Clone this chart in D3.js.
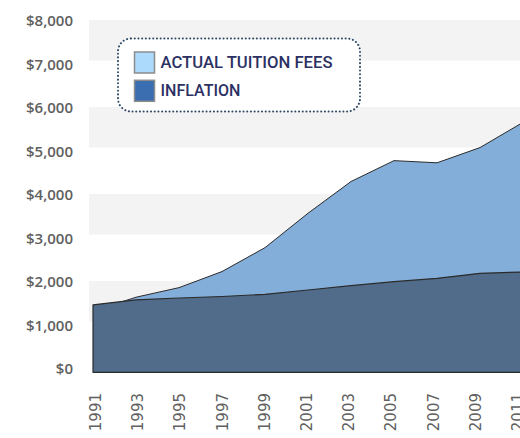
<!DOCTYPE html>
<html>
<head>
<meta charset="utf-8">
<script src="https://cdn.jsdelivr.net/npm/d3@7"></script>
<style>
  html, body { margin: 0; padding: 0; background: #fff; }
  svg { display: block; }
</style>
</head>
<body>
<div id="chart"></div>
<script>
// ---- data ----
const years = [1991, 1993, 1995, 1997, 1999, 2001, 2003, 2005, 2007, 2009, 2011];
const tuition = [1330, 1650, 1870, 2240, 2790, 3580, 4310, 4790, 4740, 5090, 5670];
const inflation = [1475, 1590, 1632, 1667, 1717, 1816, 1915, 2007, 2085, 2200, 2230];
const yTicks = [0, 1000, 2000, 3000, 4000, 5000, 6000, 7000, 8000];
const bandTops = [8000, 6000, 4000, 2000];
const legendLabels = ["ACTUAL TUITION FEES", "INFLATION"];
const legendColors = ["#acdafd", "#3a6eb0"];

const W = 520, H = 438;
const svg = d3.select("#chart").append("svg").attr("width", W).attr("height", H);

const x = d3.scaleLinear().domain([1991, 2011]).range([93, 523]);
const xLab = d3.scaleLinear().domain([1991, 2011]).range([95, 517]);
const y = d3.scaleLinear().domain([0, 8000]).range([369, 21]);
const base = y(0) + 3.3;

// bands
svg.append("g").selectAll("rect").data(bandTops).join("rect")
  .attr("x", 89).attr("width", W - 89)
  .attr("y", d => y(d) - 1)
  .attr("height", d => (y(d - 1000) - 4) - (y(d) - 1))
  .attr("fill", "#f3f3f3");

const plot = svg.append("g");
const tData = years.map((yr, i) => ({ yr, v: tuition[i] }));
const iData = years.map((yr, i) => ({ yr, v: inflation[i] }));

const area = d3.area().x(d => x(d.yr)).y0(base).y1(d => y(d.v));
const line = d3.line().x(d => x(d.yr)).y(d => y(d.v));

plot.append("path").datum(tData).attr("d", area).attr("fill", "#83aed9");
plot.append("path").datum(tData).attr("d", line)
  .attr("fill", "none").attr("stroke", "#2b2b2b").attr("stroke-width", 1);

plot.append("path").datum(iData).attr("d", area)
  .attr("fill", "#506c8a").attr("stroke", "#2b2b2b").attr("stroke-width", 1.2)
  .attr("stroke-linejoin", "round");

// y axis
const yAxis = svg.append("g").attr("transform", "translate(73,0)")
  .call(d3.axisLeft(y).tickValues(yTicks).tickSize(0).tickPadding(0)
    .tickFormat(d => "$" + d3.format(",")(d)));
yAxis.select(".domain").remove();
yAxis.selectAll("text")
  .attr("fill", "#606060").style("font-family", "'Open Sans', sans-serif")
  .style("font-weight", 600).style("font-size", "15px");

// x axis
const xAxis = svg.append("g").attr("transform", "translate(0,393)")
  .call(d3.axisBottom(xLab).tickValues(years).tickSize(0).tickFormat(d3.format("d")));
xAxis.select(".domain").remove();
xAxis.selectAll("text")
  .attr("transform", "rotate(-90)")
  .attr("x", 0).attr("y", 0).attr("dy", "0.36em")
  .style("text-anchor", "end")
  .attr("fill", "#606060").style("font-family", "'DejaVu Sans', sans-serif")
  .style("font-size", "15px");

// legend
const lg = svg.append("g");
lg.append("rect").attr("x", 118).attr("y", 38.5).attr("width", 242).attr("height", 73)
  .attr("rx", 13).attr("ry", 13)
  .attr("fill", "#fff").attr("stroke", "#2f4a66").attr("stroke-width", 2)
  .attr("stroke-dasharray", "0.1,3.6").attr("stroke-linecap", "round");
const items = lg.selectAll("g.item").data(legendLabels).join("g")
  .attr("class", "item")
  .attr("transform", (d, i) => `translate(134.5,${52 + i * 28.3})`);
items.append("rect").attr("width", 20).attr("height", 21)
  .attr("fill", (d, i) => legendColors[i]).attr("stroke", "#8c8c8c").attr("stroke-width", 1.5);
items.append("text").attr("x", 26).attr("y", 15.5)
  .text(d => d)
  .attr("textLength", (d, i) => i === 0 ? 172 : 80)
  .attr("lengthAdjust", "spacingAndGlyphs")
  .attr("fill", "#2c3163")
  .style("font-family", "Roboto, sans-serif").style("font-weight", 500)
  .style("font-size", "17px");
</script>
</body>
</html>
